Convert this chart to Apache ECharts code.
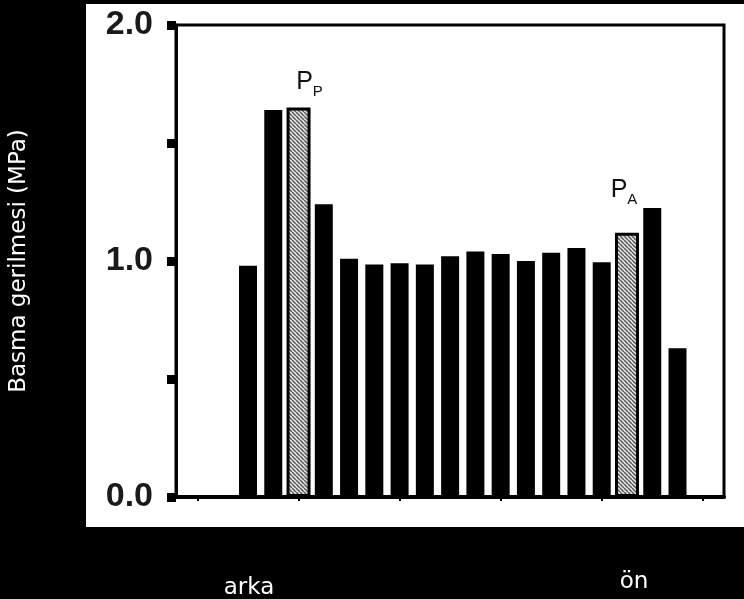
<!DOCTYPE html>
<html>
<head>
<meta charset="utf-8">
<script src="https://cdn.jsdelivr.net/npm/echarts@6/dist/echarts.min.js"></script>
<style>html,body{margin:0;padding:0;background:#000;}#c{width:744px;height:599px;}</style>
</head>
<body>
<div id="c"></div>
<script>
// ---- data ----
const positions = [1, 2, 3, 4, 5, 6, 7, 8, 9, 10, 11, 12, 13, 14, 15, 16, 17, 18];
const stressSolid = [0.98, 1.64, null, 1.24, 1.01, 0.985, 0.99, 0.985, 1.02, 1.04, 1.03, 1.0, 1.035, 1.055, 0.995, null, 1.225, 0.63];
const stressHatched = [null, null, 1.65, null, null, null, null, null, null, null, null, null, null, null, null, 1.12, null, null];
const hatchedLabels = ['', '', 'P', '', '', '', '', '', '', '', '', '', '', '', '', 'A', '', ''];
const xTickValues = [-1, 3, 7, 11, 15, 19];
const yLabelValues = [0, 1, 2];
const yTitle = 'Basma gerilmesi (MPa)';
const endLabels = ['arka', 'ön'];

function makeHatch() {
  const c = document.createElement('canvas');
  c.width = 4; c.height = 4;
  const ctx = c.getContext('2d');
  ctx.fillStyle = '#e6e6e6';
  ctx.fillRect(0, 0, 4, 4);
  ctx.strokeStyle = '#5a5a5a';
  ctx.lineWidth = 1.5;
  ctx.beginPath();
  for (const k of [-4, 0, 4]) { ctx.moveTo(k, 0); ctx.lineTo(k + 4, 4); }
  ctx.stroke();
  return c;
}

const chart = echarts.init(document.getElementById('c'), null, {renderer: 'canvas'});
const hatch = {image: makeHatch(), repeat: 'repeat'};

const labelOffsets = {P: [11, 0], A: [-3, -17]};

const xBase = {
  type: 'value', min: -1.85, max: 19.84,
  splitLine: {show: false},
  axisLine: {show: true, onZero: false, lineStyle: {color: '#000', width: 4}},
  axisTick: {show: true, customValues: xTickValues, length: 4, lineStyle: {color: '#000', width: 2}},
  axisLabel: {show: false}
};

chart.setOption({
  backgroundColor: '#000',
  animation: false,
  graphic: [
    {type: 'rect', z: -100, silent: true, shape: {x: 86, y: 4, width: 658, height: 523}, style: {fill: '#fff'}},
    {type: 'text', x: 249, y: 588, style: {text: endLabels[0], fill: '#fff', font: '23px "DejaVu Sans"', textAlign: 'center', textVerticalAlign: 'middle'}},
    {type: 'text', x: 634, y: 582, style: {text: endLabels[1], fill: '#fff', font: '23px "DejaVu Sans"', textAlign: 'center', textVerticalAlign: 'middle'}}
  ],
  grid: {left: 172, right: 20, top: 25, bottom: 102, show: true, borderColor: '#000', borderWidth: 3, backgroundColor: 'transparent'},
  xAxis: [
    Object.assign({}, xBase),
    Object.assign({}, xBase, {show: false})
  ],
  yAxis: {
    type: 'value', min: 0, max: 2, interval: 0.5,
    name: yTitle, nameLocation: 'middle', nameGap: 145, nameRotate: 90,
    nameTextStyle: {color: '#fff', fontSize: 23, fontFamily: 'DejaVu Sans'},
    splitLine: {show: false},
    axisLine: {show: true, onZero: false, lineStyle: {color: '#000', width: 3}},
    axisTick: {show: true, length: 9, lineStyle: {color: '#000', width: 9}},
    axisLabel: {
      margin: 23, color: '#1a1a1a', fontSize: 34, fontWeight: 'bold', fontFamily: 'Liberation Sans',
      formatter: v => (yLabelValues.indexOf(v) >= 0 ? v.toFixed(1) : '')
    }
  },
  series: [
    {
      type: 'bar', xAxisIndex: 0, barWidth: 18,
      itemStyle: {color: '#000'},
      data: positions.map((p, i) => [p, stressSolid[i]])
    },
    {
      type: 'bar', xAxisIndex: 1, barWidth: 24,
      itemStyle: {color: hatch, borderColor: '#000', borderWidth: 3},
      data: positions.map((p, i) => {
        const item = {value: [p, stressHatched[i]]};
        if (hatchedLabels[i]) {
          item.label = {
            show: true, position: 'top', distance: 8, offset: labelOffsets[hatchedLabels[i]],
            formatter: '{p|P}{s|' + hatchedLabels[i] + '}',
            rich: {
              p: {fontSize: 25, fontFamily: 'Liberation Sans', color: '#111', lineHeight: 30, verticalAlign: 'top'},
              s: {fontSize: 15, fontFamily: 'Liberation Sans', color: '#111', lineHeight: 15, verticalAlign: 'bottom'}
            }
          };
        }
        return item;
      })
    }
  ]
});
</script>
</body>
</html>
